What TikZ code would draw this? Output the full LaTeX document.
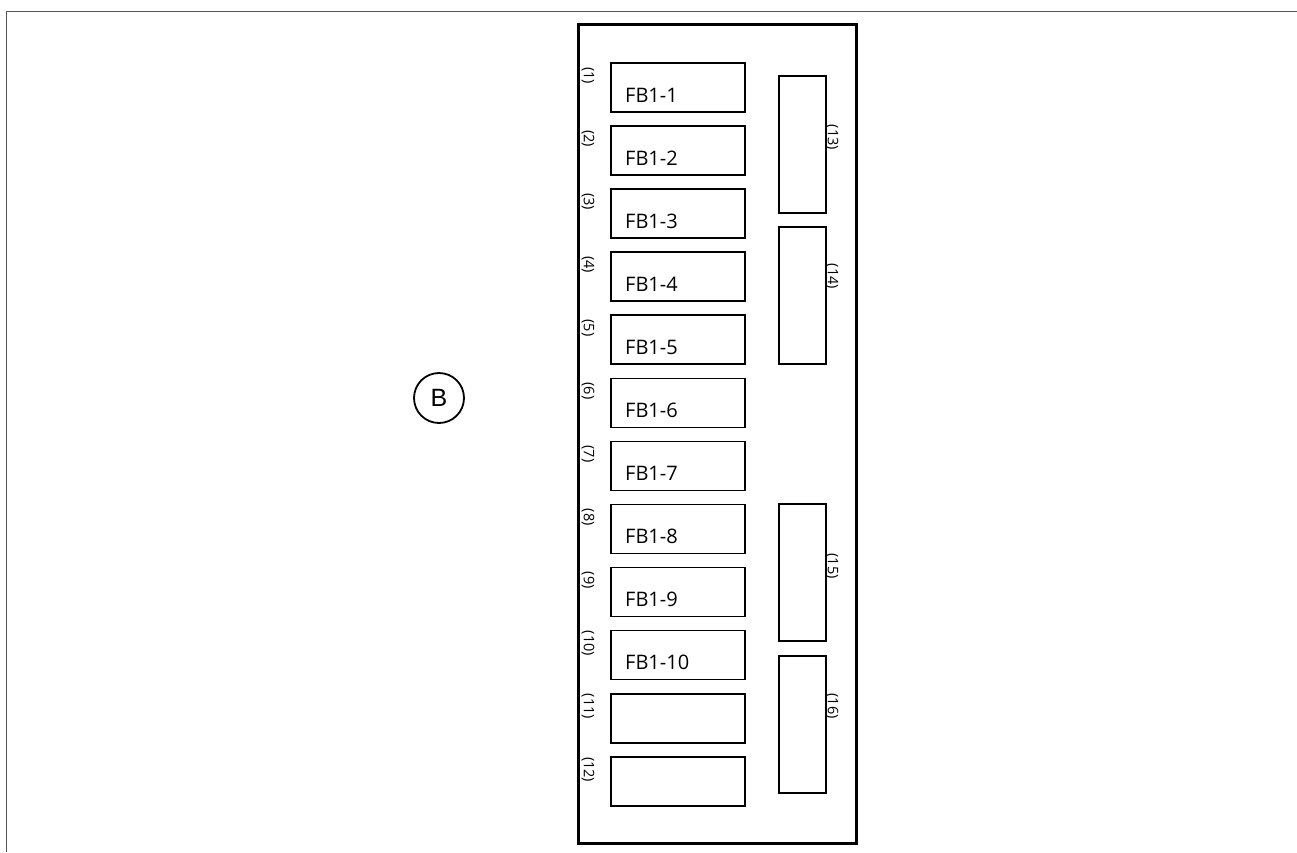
\documentclass[tikz,border=0pt]{standalone}
\usepackage{fontspec}
\setmainfont{Open Sans}
\newfontfamily\arialfont{Liberation Sans}
\definecolor{framegray}{HTML}{555555}
\begin{document}
\begin{tikzpicture}[x=1pt,y=-1pt,
  fbbox/.style={draw,line width=1.5pt,minimum width=134pt,minimum height=49pt,anchor=north west,inner sep=0pt},
  cnbox/.style={draw,line width=1.5pt,minimum width=47pt,minimum height=137pt,anchor=north west,inner sep=0pt},
  fbtext/.style={anchor=base west,font=\fontsize{20}{22}\selectfont,inner sep=0pt},
  numlbl/.style={rotate=-90,font=\fontsize{14.5}{16}\selectfont,inner sep=0pt}]
\useasboundingbox (0,0) rectangle (1297,852);
% outer frame lines
\coordinate (fbl) at (6.5,852);
\coordinate (ftl) at (6.5,11);
\coordinate (ftr) at (1297,11);
\draw[framegray,line width=1pt] (fbl) -- (ftl) -- (ftr);
% panel
\node[draw,line width=3pt,minimum width=278pt,minimum height=819pt,anchor=north west,inner sep=0pt] (panel) at (577,23) {};
% callout B
\node[circle,draw,line width=1.8pt,minimum size=50pt,inner sep=0pt,font=\arialfont\fontsize{25}{27}\selectfont] (B) at (439,398) {B};
% fuse column
\foreach \i in {1,...,12}{
  \pgfmathsetmacro\ytop{62+(\i-1)*63.1}
  \node[fbbox] (f\i) at (610,\ytop) {};
  \node[numlbl] (n\i) at (588,\ytop+13.5) {(\i)};
  \ifnum\i<11
    \node[fbtext] (t\i) at (625,\ytop+40) {FB1-\i};
  \fi
}
% right connectors
\node[cnbox] (c13) at (778,75) {};
\node[cnbox] (c14) at (778,226) {};
\node[cnbox] (c15) at (778,503) {};
\node[cnbox] (c16) at (778,655) {};
\node[numlbl] (n13) at (832,137.5) {(13)};
\node[numlbl] (n14) at (832,276.5) {(14)};
\node[numlbl] (n15) at (832,566) {(15)};
\node[numlbl] (n16) at (832,706) {(16)};
\end{tikzpicture}
\end{document}
